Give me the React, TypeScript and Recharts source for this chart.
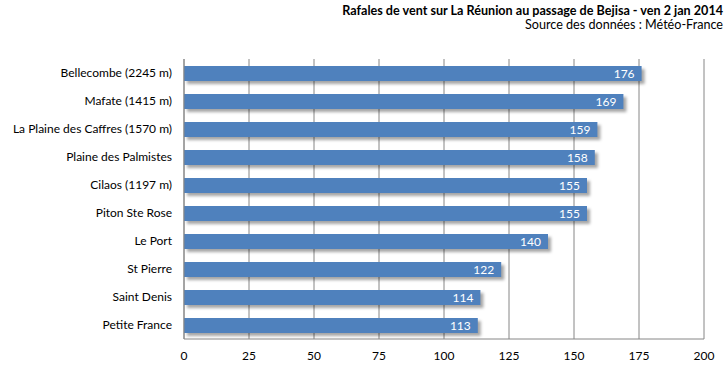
import React from 'react';
import { BarChart, Bar, XAxis, YAxis, CartesianGrid, LabelList } from 'recharts';

const stations = [
  'Bellecombe (2245 m)',
  'Mafate (1415 m)',
  'La Plaine des Caffres (1570 m)',
  'Plaine des Palmistes',
  'Cilaos (1197 m)',
  'Piton Ste Rose',
  'Le Port',
  'St Pierre',
  'Saint Denis',
  'Petite France',
];
const gusts = [176, 169, 159, 158, 155, 155, 140, 122, 114, 113];
const xTicks = [0, 25, 50, 75, 100, 125, 150, 175, 200];

const data = stations.map((name, i) => ({ name, value: gusts[i] }));

const FONT = 'Lato, "Open Sans", sans-serif';

const ShadowBar = (props: any) => {
  const { x, y, width, height, fill } = props;
  if (width <= 0) return null;
  return (
    <g>
      <rect x={x + 3} y={y + 3} width={width} height={height} fill="rgba(0,0,0,0.35)" style={{ filter: 'blur(1.5px)' }} />
      <rect x={x} y={y} width={width} height={height} fill={fill} />
    </g>
  );
};

const YTick = (props: any) => {
  const { x, y, payload } = props;
  return (
    <text x={x} y={y} dy={4} textAnchor="end" fill="#000" fontSize={12} fontFamily={FONT}>
      {payload.value}
    </text>
  );
};

export default function App() {
  return (
    <div style={{ position: 'absolute', left: 0, top: 0, width: 728, height: 373, background: '#fff', fontFamily: FONT }}>
      <div style={{ position: 'absolute', right: 5, top: 4, textAlign: 'right', fontSize: 12.6, lineHeight: '14px', color: '#000' }}>
        <div style={{ fontWeight: 'bold' }}>Rafales de vent sur La Réunion au passage de Bejisa - ven 2 jan 2014</div>
        <div>Source des données : Météo-France</div>
      </div>
      <BarChart
        width={728}
        height={373}
        data={data}
        layout="vertical"
        margin={{ top: 59, right: 24, bottom: 0, left: 0 }}
      >
        <CartesianGrid horizontal={false} stroke="#868686" />
        <XAxis
          type="number"
          domain={[0, 200]}
          ticks={xTicks}
          interval={0}
          height={34}
          tickLine={false}
          tickSize={0}
          tickMargin={12}
          axisLine={{ stroke: '#868686' }}
          tick={{ fill: '#000', fontSize: 12, fontFamily: FONT }}
        />
        <YAxis
          type="category"
          dataKey="name"
          width={184}
          tickLine={false}
          tickSize={0}
          tickMargin={12}
          axisLine={{ stroke: '#868686' }}
          tick={YTick}
        />
        <Bar dataKey="value" fill="#4F81BD" barSize={15} isAnimationActive={false} shape={ShadowBar}>
          <LabelList dataKey="value" position="insideRight" offset={7} fill="#fff" fontSize={12} fontFamily={FONT} />
        </Bar>
      </BarChart>
    </div>
  );
}
